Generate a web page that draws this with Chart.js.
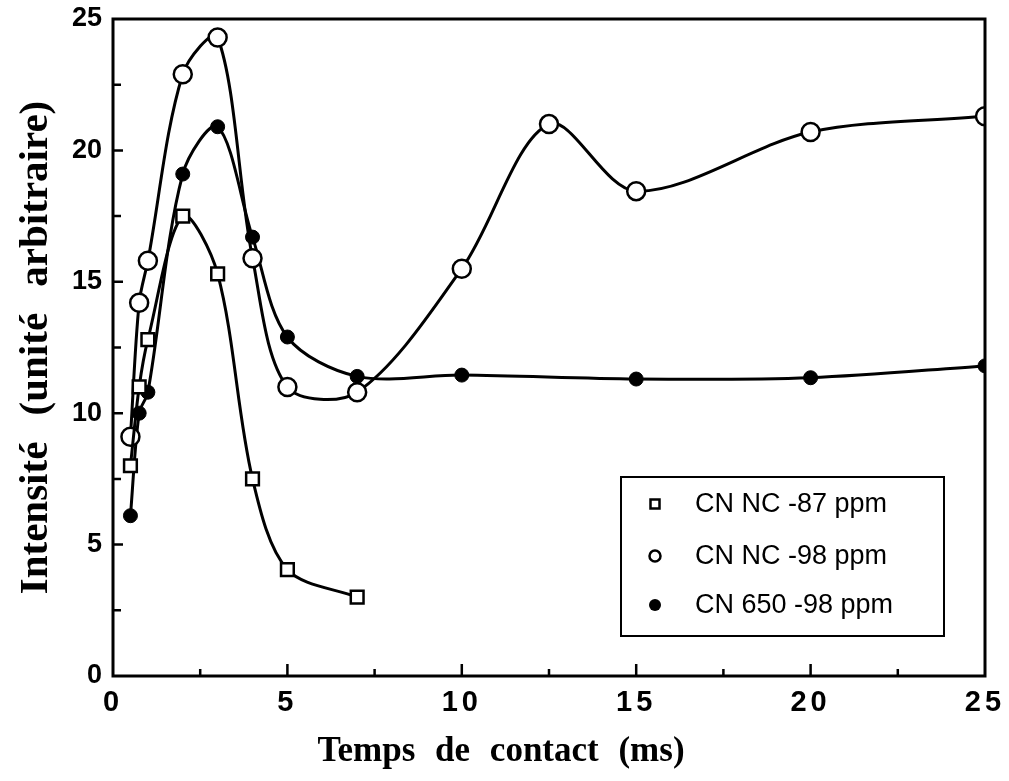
<!DOCTYPE html>
<html>
<head>
<meta charset="utf-8">
<script src="https://cdn.jsdelivr.net/npm/chart.js@4.4.1/dist/chart.umd.min.js"></script>
<style>
html,body{margin:0;padding:0;background:#fff;}
#wrap{width:1009px;height:781px;}
</style>
</head>
<body>
<div id="wrap"><canvas id="c" width="1009" height="781"></canvas></div>
<script>
// ---- data ----
const seriesNames = ["CN NC -87 ppm", "CN NC -98 ppm", "CN 650 -98 ppm"];
const xSquares = [0.5, 0.75, 1, 2, 3, 4, 5, 7];
const ySquares = [8.0, 11.0, 12.8, 17.5, 15.3, 7.5, 4.05, 3.0];
const xOpen = [0.5, 0.75, 1, 2, 3, 4, 5, 7, 10, 12.5, 15, 20, 25];
const yOpen = [9.1, 14.2, 15.8, 22.9, 24.3, 15.9, 11.0, 10.8, 15.5, 21.0, 18.45, 20.7, 21.3];
const xFilled = [0.5, 0.75, 1, 2, 3, 4, 5, 7, 10, 15, 20, 25];
const yFilled = [6.1, 10.0, 10.8, 19.1, 20.9, 16.7, 12.9, 11.4, 11.45, 11.3, 11.35, 11.8];
const xTicks = [0, 5, 10, 15, 20, 25];
const yTicks = [0, 5, 10, 15, 20, 25];
const xMinorTicks = [2.5, 7.5, 12.5, 17.5, 22.5];
const yMinorTicks = [2.5, 7.5, 12.5, 17.5, 22.5];
const xTitle = "Temps de contact (ms)";
const yTitle = "Intensité (unité arbitraire)";

function pts(xs, ys) { return xs.map((x, i) => ({x: x, y: ys[i]})); }

const styles = [
  {pointStyle: 'rect', pointRadius: 9, pointBackgroundColor: '#fff', pointBorderWidth: 2.5},
  {pointStyle: 'circle', pointRadius: 9, pointBackgroundColor: '#fff', pointBorderWidth: 2.5},
  {pointStyle: 'circle', pointRadius: 7, pointBackgroundColor: '#000', pointBorderWidth: 1}
];
const dataSets = [pts(xSquares, ySquares), pts(xOpen, yOpen), pts(xFilled, yFilled)];

const datasets = dataSets.map((d, i) => Object.assign({
  label: seriesNames[i],
  data: d,
  borderColor: '#000',
  borderWidth: 3,
  pointBorderColor: '#000',
  tension: 0.32,
  fill: false
}, styles[i]));

// per-axis text tweaks: letter spacing of tick labels, word spacing / shift of the title
function patchScale(scale, labelSpacing, wordSpacing, titleDx) {
  if (scale._patched) return;
  scale._patched = true;
  const origLabels = scale.drawLabels.bind(scale);
  scale.drawLabels = function (area) {
    const c = this.ctx; c.save(); c.letterSpacing = labelSpacing; origLabels(area); c.restore();
  };
  const origTitle = scale.drawTitle.bind(scale);
  scale.drawTitle = function () {
    const c = this.ctx; c.save(); c.translate(titleDx, 0); c.wordSpacing = wordSpacing; origTitle(); c.restore();
  };
}

const framePlugin = {
  id: 'frame',
  beforeDraw(chart) {
    const ctx = chart.ctx;
    ctx.save();
    ctx.fillStyle = '#fff';
    ctx.fillRect(0, 0, chart.width, chart.height);
    ctx.restore();
  },
  afterDatasetsDraw(chart) {
    const {ctx, chartArea: a, scales: {x, y}} = chart;
    ctx.save();
    ctx.strokeStyle = '#000';
    ctx.lineWidth = 3;
    ctx.strokeRect(a.left, a.top, a.right - a.left, a.bottom - a.top);
    ctx.lineWidth = 2.5;
    ctx.beginPath();
    xTicks.concat(xMinorTicks).forEach(v => {
      if (v <= x.min || v >= x.max) return;
      const px = x.getPixelForValue(v);
      const len = xMinorTicks.includes(v) ? 7 : 12;
      ctx.moveTo(px, a.bottom); ctx.lineTo(px, a.bottom - len);
    });
    yTicks.concat(yMinorTicks).forEach(v => {
      if (v <= y.min || v >= y.max) return;
      const py = y.getPixelForValue(v);
      const len = yMinorTicks.includes(v) ? 8 : 10;
      ctx.moveTo(a.left, py); ctx.lineTo(a.left + len, py);
    });
    ctx.stroke();

    // legend box
    const bx = a.right - 364, by = a.top + 458, bw = 323, bh = 159;
    ctx.lineWidth = 2;
    ctx.strokeRect(bx, by, bw, bh);
    ctx.font = "27px 'Liberation Sans', Arial, sans-serif";
    ctx.fillStyle = '#000';
    ctx.textBaseline = 'middle';
    const rows = [by + 27, by + 79, by + 128];
    chart.data.datasets.forEach((ds, i) => {
      const cy = rows[i], cx = bx + 34;
      ctx.beginPath();
      ctx.lineWidth = 2.5;
      if (ds.pointStyle === 'rect') {
        ctx.rect(cx - 4.5, cy - 4.5, 9, 9);
        ctx.stroke();
      } else if (ds.pointBackgroundColor === '#fff') {
        ctx.arc(cx, cy, 5.5, 0, Math.PI * 2);
        ctx.stroke();
      } else {
        ctx.arc(cx, cy, 6, 0, Math.PI * 2);
        ctx.fill();
      }
      ctx.fillText(ds.label, bx + 74, cy + 1);
    });
    ctx.restore();
  }
};

new Chart(document.getElementById('c'), {
  type: 'line',
  data: {datasets: datasets},
  options: {
    responsive: false,
    animation: false,
    layout: {padding: {top: 19, right: 24, left: 0, bottom: 0}},
    plugins: {legend: {display: false}, tooltip: {enabled: false}},
    scales: {
      x: {
        type: 'linear', min: 0, max: 25,
        grid: {display: false, drawTicks: false},
        border: {display: false},
        afterBuildTicks: s => { s.ticks = xTicks.map(v => ({value: v})); },
        afterFit: s => { s.height = 105; s.paddingLeft = 0; s.paddingRight = 0; },
        afterUpdate: s => patchScale(s, '4px', '11px', -48),
        ticks: {color: '#000', padding: 10, maxRotation: 0,
          font: {family: "'Liberation Sans', Arial, sans-serif", size: 29, weight: 'bold'}},
        title: {display: true, text: xTitle, color: '#000', padding: {top: 0, bottom: 8},
          font: {family: "'Liberation Serif', 'Times New Roman', serif", size: 35, weight: 'bold'}}
      },
      y: {
        type: 'linear', min: 0, max: 25,
        grid: {display: false, drawTicks: false},
        border: {display: false},
        afterBuildTicks: s => { s.ticks = yTicks.map(v => ({value: v})); },
        afterFit: s => { s.width = 113; s.paddingTop = 0; s.paddingBottom = 0; },
        afterUpdate: s => patchScale(s, '0px', '16px', 0),
        ticks: {color: '#000', padding: 11,
          font: {family: "'Liberation Sans', Arial, sans-serif", size: 27, weight: 'bold'}},
        title: {display: true, text: yTitle, color: '#000', padding: {top: 12, bottom: 0},
          font: {family: "'Liberation Serif', 'Times New Roman', serif", size: 41, weight: 'bold'}}
      }
    }
  },
  plugins: [framePlugin]
});
</script>
</body>
</html>
